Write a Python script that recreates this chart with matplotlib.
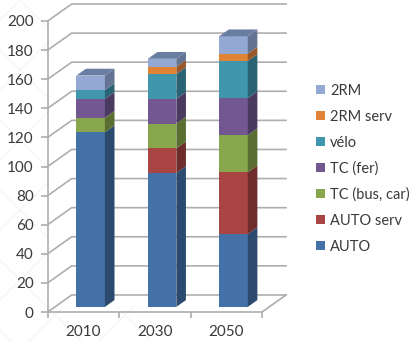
import numpy as np
import matplotlib
matplotlib.use("Agg")
import matplotlib.pyplot as plt
from matplotlib.patches import Patch, Polygon, Rectangle

annees = ['2010', '2030', '2050']
noms = ['AUTO', 'AUTO serv', 'TC (bus, car)', 'TC (fer)', 'vélo', '2RM serv', '2RM']

auto = [120, 92, 50]
auto_serv = [0, 17, 42.5]
tc_bus = [10, 17, 25.5]
tc_fer = [13, 17, 25.5]
velo = [6, 17, 25.5]
rm_serv = [0, 5, 5]
rm = [10, 5.5, 12]
series = [auto, auto_serv, tc_bus, tc_fer, velo, rm_serv, rm]

couleurs = ['#4472a8', '#a84442', '#88a64c', '#735790', '#3f96ad', '#df8436', '#93a9d3']
cotes = ['#2c4a6e', '#6e2c2b', '#5a6e32', '#4b3a60', '#2a6373', '#99592a', '#637391']
dessus = '#6a7ea3'
gris = '#aeaeae'
texte = '#3a3a3a'

# profondeur de la perspective, en unites des axes
DX = 0.336
DY = 11.7
LARGEUR = 0.4
D0, D1 = 0.3, 0.7

plt.rcParams['font.family'] = ['Lato', 'DejaVu Sans']

fig = plt.figure(figsize=(4.10, 3.42), dpi=100)

# fond : treillis tres pale a gauche et en bas
fond = fig.add_axes([0, 0, 1, 1], zorder=0)
fond.set_xlim(0, 410)
fond.set_ylim(342, 0)
fond.axis('off')
for k in range(-400, 800, 70):
    fond.plot([k, k + 400], [0, 400], color='#f3f6f9', lw=0.9)
    fond.plot([k, k - 400], [0, 400], color='#f3f6f9', lw=0.9)
fond.add_patch(Rectangle((48, 0), 362, 305, color='white', zorder=3))
fond.add_patch(Rectangle((150, 305), 260, 37, color='white', zorder=3))

ax = fig.add_axes([47.7 / 410, 30 / 342, 214.3 / 410, 291 / 342], zorder=1)
ax.patch.set_alpha(0)
ax.set_xlim(-0.5, 2.5)
ax.set_ylim(0, 200)

# murs et plancher
graduations = np.arange(0, 201, 20)
for v in graduations:
    ax.plot([-0.5, -0.5 + DX, 2.5 + DX], [v, v + DY, v + DY], color=gris, lw=1.2,
            clip_on=False, zorder=1)
ax.plot([2.5, 2.5 + DX], [0, DY], color=gris, lw=1.2, clip_on=False, zorder=1)

# barres empilees
x = np.arange(len(annees))
bas = np.zeros(len(annees))
for valeurs, coul, cote in zip(series, couleurs, cotes):
    valeurs = np.array(valeurs, dtype=float)
    ax.bar(x + D0 * DX, valeurs, LARGEUR, bottom=bas + D0 * DY, color=coul,
           clip_on=False, zorder=3)
    for xi, b, h in zip(x, bas, valeurs):
        if h == 0:
            continue
        xd = xi + D0 * DX + LARGEUR / 2
        yb = b + D0 * DY
        e_x = (D1 - D0) * DX
        e_y = (D1 - D0) * DY
        ax.add_patch(Polygon([(xd, yb), (xd + e_x, yb + e_y), (xd + e_x, yb + e_y + h), (xd, yb + h)],
                             closed=True, facecolor=cote, edgecolor='none',
                             clip_on=False, zorder=3))
    bas = bas + valeurs

# dessus des barres
for xi, total in zip(x, bas):
    xg = xi + D0 * DX - LARGEUR / 2
    yh = total + D0 * DY
    e_x = (D1 - D0) * DX
    e_y = (D1 - D0) * DY
    ax.add_patch(Polygon([(xg, yh), (xg + LARGEUR, yh), (xg + LARGEUR + e_x, yh + e_y), (xg + e_x, yh + e_y)],
                         closed=True, facecolor=dessus, edgecolor='none',
                         clip_on=False, zorder=3))

# axes
for s in ['top', 'right']:
    ax.spines[s].set_visible(False)
for s in ['left', 'bottom']:
    ax.spines[s].set_color(gris)
    ax.spines[s].set_linewidth(1.2)
ax.set_yticks(graduations)
ax.tick_params(axis='y', color=gris, width=1.2, length=5, labelsize=11, labelcolor=texte, pad=5)
ax.set_xticks([-0.5, 0.5, 1.5, 2.5])
ax.set_xticklabels([])
ax.set_xticks(x, minor=True)
ax.set_xticklabels(annees, minor=True)
ax.tick_params(axis='x', which='major', color=gris, width=1.2, length=4)
ax.tick_params(axis='x', which='minor', length=0, labelsize=11, labelcolor=texte, pad=9)

# legende, ordre inverse
poignees = [Patch(facecolor=c, edgecolor='none') for c in couleurs]
fig.legend(poignees[::-1], noms[::-1], loc='upper left', bbox_to_anchor=(316 / 410, 1 - 84 / 342),
           frameon=False, fontsize=10.5, labelcolor=texte, handlelength=0.6, handleheight=0.6,
           handletextpad=0.35, labelspacing=0.81, borderpad=0, borderaxespad=0)

fig.savefig('out.png', dpi=100)
